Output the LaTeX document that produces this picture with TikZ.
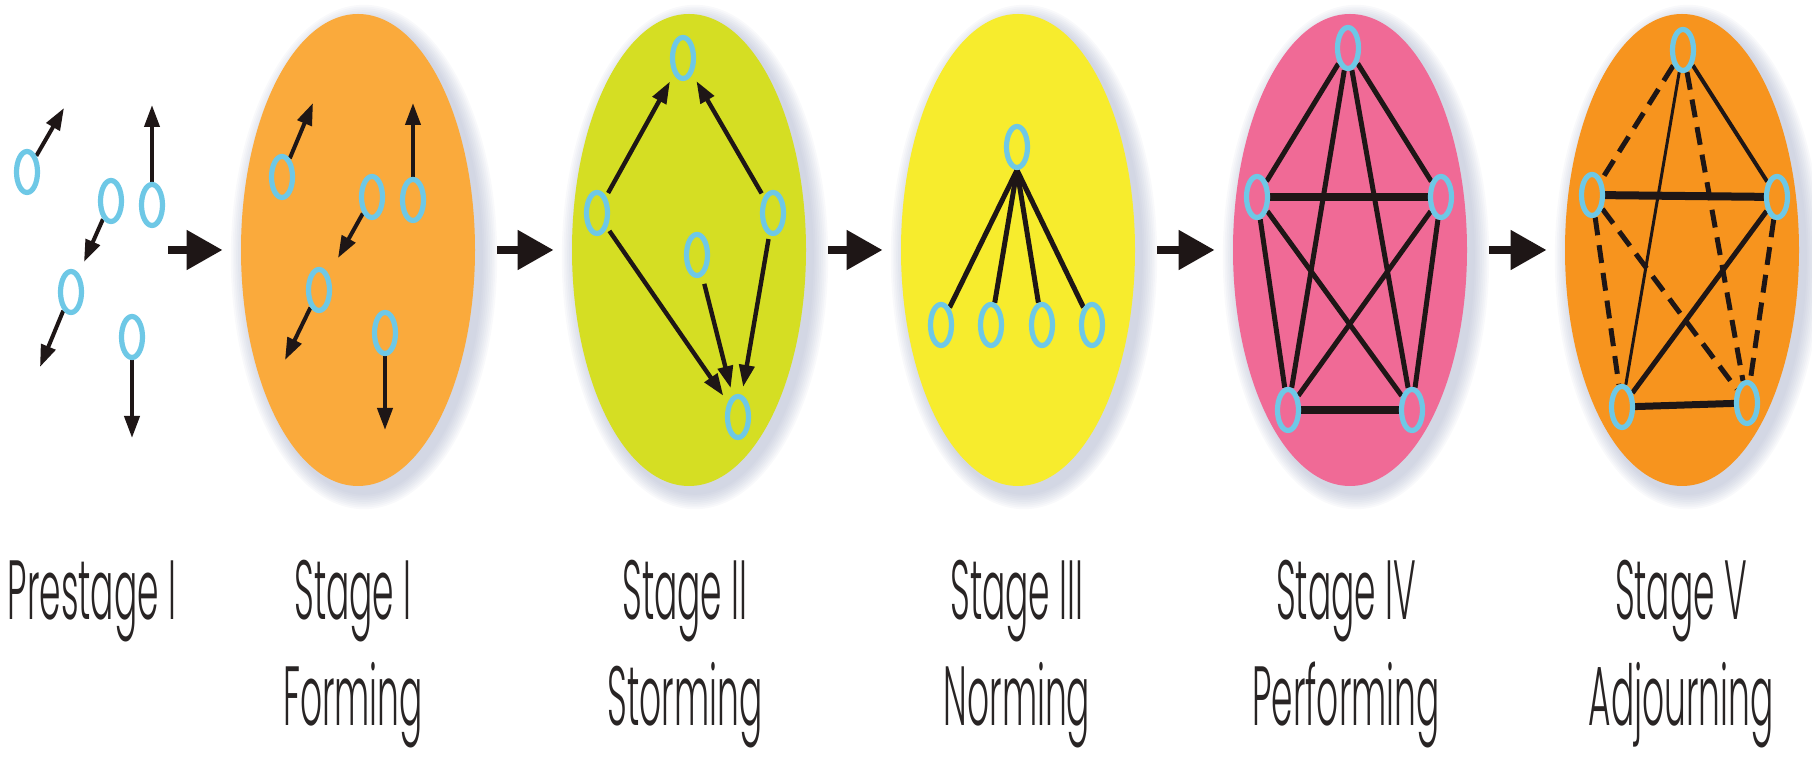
\documentclass[tikz,border=0pt]{standalone}
\usepackage{graphicx}
\usepackage{fontspec}
\IfFontExistsTF{Poppins Light}{\newfontfamily\labfont{Poppins Light}}{\newfontfamily\labfont{Poppins}}
\newcommand{\squeezed}[1]{\scalebox{0.41}[1]{#1}}
\usetikzlibrary{arrows.meta,shapes.geometric}
\pgfdeclarelayer{bg}
\pgfdeclarelayer{edges}
\pgfsetlayers{bg,edges,main}
\definecolor{cI}{RGB}{250,170,60}
\definecolor{cII}{RGB}{213,222,35}
\definecolor{cIII}{RGB}{247,236,45}
\definecolor{cIV}{RGB}{240,106,150}
\definecolor{cV}{RGB}{247,148,30}
\definecolor{ringc}{RGB}{110,200,230}
\definecolor{inkc}{RGB}{30,22,22}
\definecolor{txtc}{RGB}{40,36,36}
\definecolor{shadc}{RGB}{150,160,190}
\begin{document}
\begin{tikzpicture}[x=0.5pt,y=-0.5pt,
  stagebox/.style={ellipse, minimum width=117pt, minimum height=236pt, inner sep=0pt, draw=none},
  ring/.style={ellipse, draw=ringc, line width=2.6pt, minimum width=10.5pt, minimum height=20.5pt, inner sep=0pt},
  smallarrow/.style={draw=inkc, line width=2pt, -{Triangle[length=11pt,width=7.5pt]}},
  bigarrow/.style={draw=inkc, line width=4pt, -{Triangle[length=18pt,width=19pt]}, shorten <=11pt, shorten >=9pt},
  edgeline/.style={draw=inkc, line width=2.5pt},
  thickedge/.style={draw=inkc, line width=4pt},
  dashedge/.style={draw=inkc, line width=2.5pt, dash pattern=on 9pt off 5pt},
  lab/.style={anchor=base, font=\labfont\fontsize{42}{50}\selectfont, text=txtc, inner sep=0pt, text height=31pt, text depth=11pt}
]
\useasboundingbox (0,0) rectangle (1812,758);

% shadows and stage ellipses
\begin{pgfonlayer}{bg}
\foreach \cx in {358,689,1018,1350,1682}{
  \foreach \k in {1,...,9}{
    \fill[shadc, opacity=0.06] (\cx+6,257) ellipse [x radius={58.5pt+\k*0.9pt}, y radius={118pt+\k*0.9pt}];
  }
}
\node[stagebox, fill=cI]   (s1) at (358,250) {};
\node[stagebox, fill=cII]  (s2) at (689,250) {};
\node[stagebox, fill=cIII] (s3) at (1018,250) {};
\node[stagebox, fill=cIV]  (s4) at (1350,250) {};
\node[stagebox, fill=cV]   (s5) at (1682,250) {};
\end{pgfonlayer}

% stage transition arrows
\coordinate (p0) at (168,250);
\draw[bigarrow, shorten <=0pt] (p0) -- (s1);
\draw[bigarrow] (s1) -- (s2);
\draw[bigarrow] (s2) -- (s3);
\draw[bigarrow] (s3) -- (s4);
\draw[bigarrow] (s4) -- (s5);

% Prestage
\node[ring, fill=white] (pa) at (27,172) {};
\node[ring, fill=white] (pb) at (111,201) {};
\node[ring, fill=white] (pc) at (71,292) {};
\node[ring, fill=white] (pd) at (152,205) {};
\node[ring, fill=white] (pe) at (132,337) {};
\coordinate (pa1) at (64,108);
\coordinate (pb1) at (84,262);
\coordinate (pc1) at (40,367);
\coordinate (pd1) at (152,105);
\coordinate (pe1) at (132,438);
\begin{pgfonlayer}{edges}
\draw[smallarrow] (pa) -- (pa1);
\draw[smallarrow] (pb) -- (pb1);
\draw[smallarrow] (pc) -- (pc1);
\draw[smallarrow] (pd) -- (pd1);
\draw[smallarrow] (pe) -- (pe1);
\end{pgfonlayer}

% Stage I
\node[ring, fill=cI] (fa) at (282,177) {};
\node[ring, fill=cI] (fb) at (372,197) {};
\node[ring, fill=cI] (fc) at (413,200) {};
\node[ring, fill=cI] (fd) at (319,290) {};
\node[ring, fill=cI] (fe) at (385,333) {};
\coordinate (fa1) at (313,103);
\coordinate (fb1) at (338,258);
\coordinate (fc1) at (413,103);
\coordinate (fd1) at (285,360);
\coordinate (fe1) at (385,430);
\begin{pgfonlayer}{edges}
\draw[smallarrow] (fa) -- (fa1);
\draw[smallarrow] (fb) -- (fb1);
\draw[smallarrow] (fc) -- (fc1);
\draw[smallarrow] (fd) -- (fd1);
\draw[smallarrow] (fe) -- (fe1);
\end{pgfonlayer}

% Stage II
\node[ring, fill=cII] (st) at (683,58) {};
\node[ring, fill=cII] (sl) at (597,213) {};
\node[ring, fill=cII] (sr) at (773,213) {};
\node[ring, fill=cII] (sm) at (697,255) {};
\node[ring, fill=cII] (sb) at (738,417) {};
\begin{pgfonlayer}{edges}
\draw[smallarrow, line width=2.2pt, shorten <=2pt, shorten >=4pt] (sl) -- (st);
\draw[smallarrow, line width=2.2pt, shorten <=2pt, shorten >=4pt] (sr) -- (st);
\draw[smallarrow, line width=2.2pt, shorten <=2pt, shorten >=4pt] (sl) -- (sb);
\draw[smallarrow, line width=2.2pt, shorten <=4pt, shorten >=4pt] (sm) -- (sb);
\draw[smallarrow, line width=2.2pt, shorten <=2pt, shorten >=4pt] (sr) -- (sb);
\end{pgfonlayer}

% Stage III
\node[ring, fill=cIII] (nt) at (1017,147) {};
\node[ring, fill=cIII] (n1) at (941,325) {};
\node[ring, fill=cIII] (n2) at (991,325) {};
\node[ring, fill=cIII] (n3) at (1042,325) {};
\node[ring, fill=cIII] (n4) at (1092,325) {};
\begin{pgfonlayer}{edges}
\draw[edgeline] (nt.south) -- (n1);
\draw[edgeline] (nt.south) -- (n2);
\draw[edgeline] (nt.south) -- (n3);
\draw[edgeline] (nt.south) -- (n4);
\end{pgfonlayer}

% Stage IV
\node[ring, fill=cIV] (pt) at (1348,48) {};
\node[ring, fill=cIV] (pl) at (1257,197) {};
\node[ring, fill=cIV] (pr) at (1441,197) {};
\node[ring, fill=cIV] (pbl) at (1288,410) {};
\node[ring, fill=cIV] (pbr) at (1412,410) {};
\begin{pgfonlayer}{edges}
\draw[edgeline] (pt) -- (pl);
\draw[edgeline] (pt) -- (pr);
\draw[edgeline] (pt) -- (pbl);
\draw[edgeline] (pt) -- (pbr);
\draw[thickedge] (pl) -- (pr);
\draw[edgeline] (pl) -- (pbl);
\draw[edgeline] (pl) -- (pbr);
\draw[edgeline] (pr) -- (pbl);
\draw[edgeline] (pr) -- (pbr);
\draw[thickedge] (pbl) -- (pbr);
\end{pgfonlayer}

% Stage V
\node[ring, fill=cV] (at) at (1683,50) {};
\node[ring, fill=cV] (al) at (1592,195) {};
\node[ring, fill=cV] (ar) at (1777,197) {};
\node[ring, fill=cV] (abl) at (1622,407) {};
\node[ring, fill=cV] (abr) at (1747,403) {};
\begin{pgfonlayer}{edges}
\draw[dashedge] (at) -- (al);
\draw[edgeline, line width=2pt] (at) -- (ar);
\draw[edgeline, line width=1.5pt] (at) -- (abl);
\draw[dashedge] (at) -- (abr);
\draw[thickedge] (al) -- (ar);
\draw[dashedge] (al) -- (abl);
\draw[dashedge] (al) -- (abr);
\draw[edgeline] (ar) -- (abl);
\draw[dashedge] (ar) -- (abr);
\draw[thickedge, line width=3.5pt] (abl) -- (abr);
\end{pgfonlayer}

% labels
\node[lab] (l0)  at (92,620)   {\squeezed{Prestage I}};
\node[lab] (l1a) at (353,620)  {\squeezed{Stage I}};
\node[lab] (l1b) at (353,726)  {\squeezed{Forming}};
\node[lab] (l2a) at (685,620)  {\squeezed{Stage II}};
\node[lab] (l2b) at (685,726)  {\squeezed{Storming}};
\node[lab] (l3a) at (1017,620) {\squeezed{Stage III}};
\node[lab] (l3b) at (1017,726) {\squeezed{Norming}};
\node[lab] (l4a) at (1346,620) {\squeezed{Stage IV}};
\node[lab] (l4b) at (1346,726) {\squeezed{Performing}};
\node[lab] (l5a) at (1681,620) {\squeezed{Stage V}};
\node[lab] (l5b) at (1681,726) {\squeezed{Adjourning}};
\end{tikzpicture}
\end{document}
